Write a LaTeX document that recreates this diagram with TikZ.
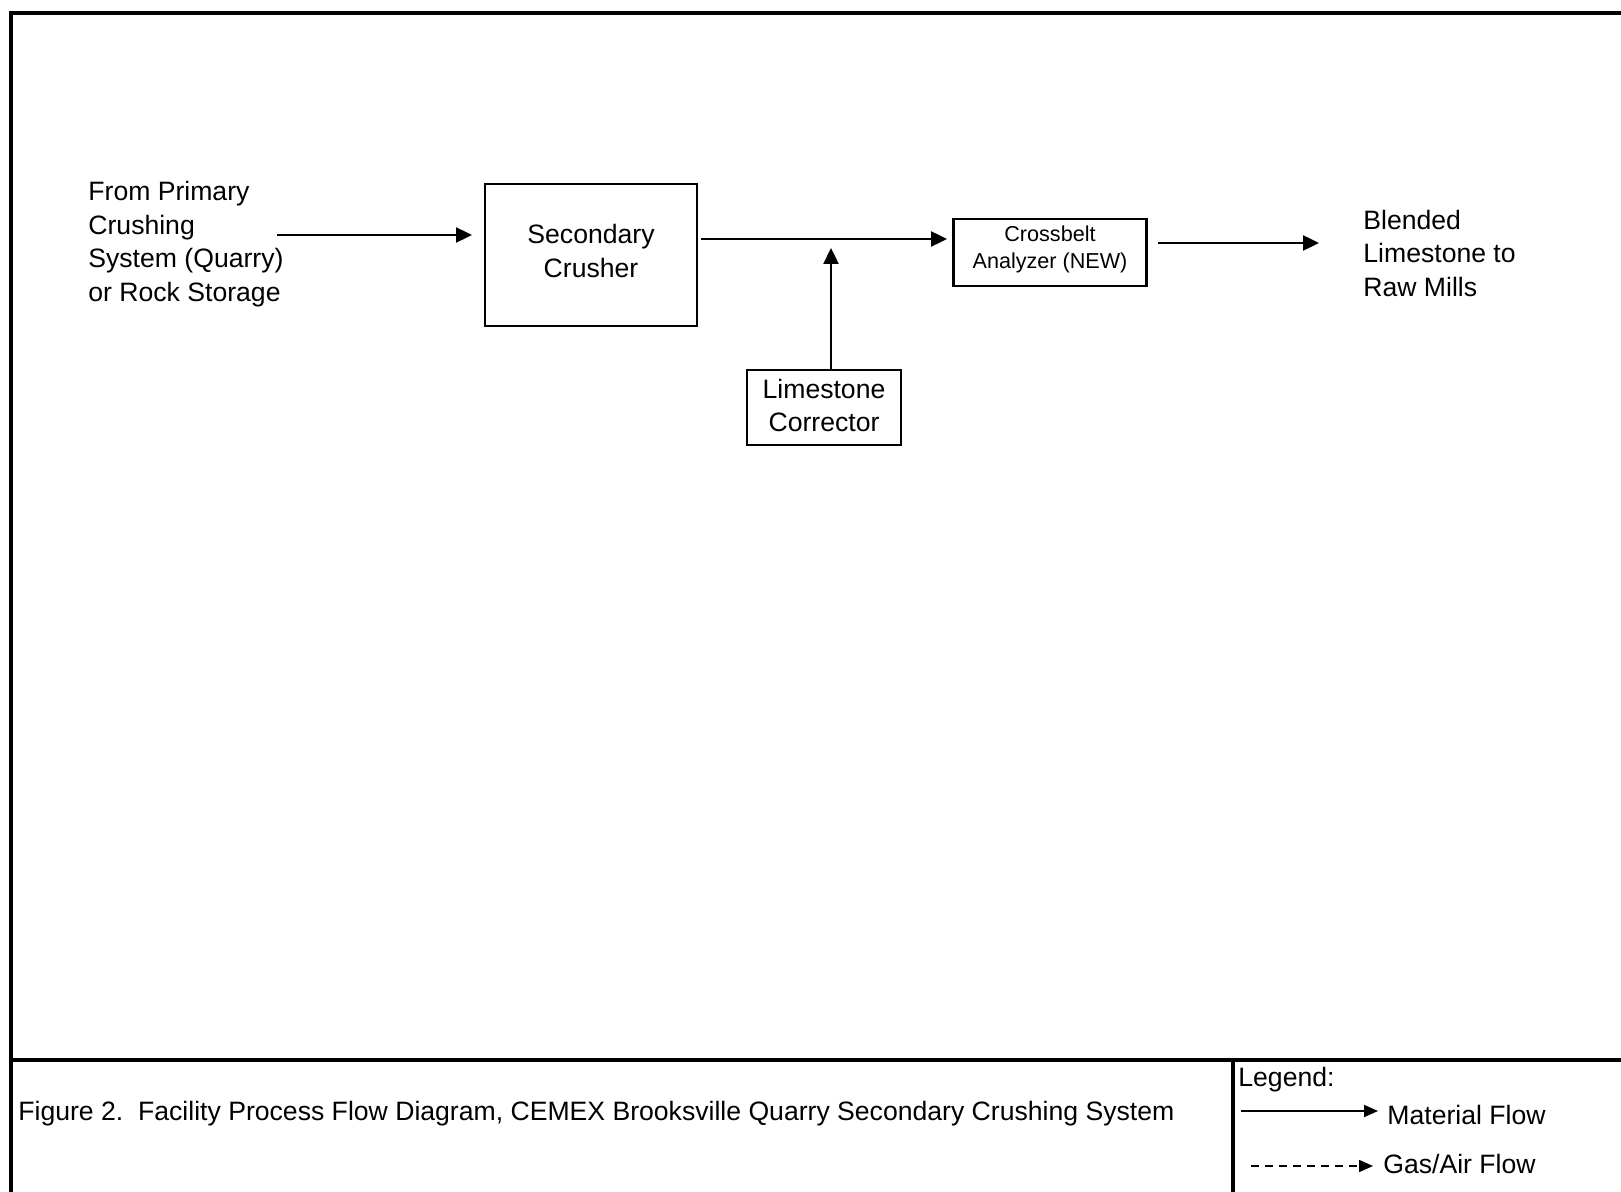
\documentclass[tikz,border=0pt]{standalone}
\usepackage{fontspec}
\setmainfont{Liberation Sans}
\usetikzlibrary{arrows.meta}
\begin{document}
\begin{tikzpicture}[x=0.5pt,y=-0.5pt,
  mainfont/.style={font=\fontsize{13.3}{16.75}\selectfont},
  smallfont/.style={font=\fontsize{10.8}{13.3}\selectfont},
  procbox/.style={draw=black,line width=1.3pt,inner sep=0pt},
  boxtext/.style={inner sep=0pt,align=center,mainfont},
  txt/.style={inner sep=0pt,align=left,mainfont,anchor=west},
  flow/.style={draw=black,line width=1.2pt,-{Triangle[length=8pt,width=7.5pt]}},
  legflow/.style={draw=black,line width=1pt,-{Triangle[length=7pt,width=6pt]}},
  gasflow/.style={draw=black,line width=0.8pt,dash pattern=on 4pt off 3pt,-{Triangle[length=7pt,width=6pt]}},
  frame/.style={draw=black,line width=2.3pt}]
\useasboundingbox (0,0) rectangle (1621,1192);
\fill[white] (0,0) rectangle (1621,1192);
% frame
\coordinate (ftl) at (11,13);
\coordinate (ftr) at (1621,13);
\coordinate (fbl) at (11,1192);
\coordinate (mbl) at (11,1060);
\coordinate (mbr) at (1621,1060);
\coordinate (dvt) at (1233,1060);
\coordinate (dvb) at (1233,1192);
\draw[frame] (ftr) -- (ftl) -- (fbl);
\draw[frame] (mbl) -- (mbr);
\draw[frame] (dvt) -- (dvb);
% nodes
\node[txt] (from) at (88,244) {From Primary\\Crushing\\System (Quarry)\\or Rock Storage};
\node[procbox,minimum width=106pt,minimum height=71pt] (crusher) at (591,255) {};
\node[boxtext] (crushertxt) at (591,251) {Secondary\\Crusher};
\node[procbox,minimum width=96.5pt,minimum height=33.5pt] (cba) at (1050,252.5) {};
\node[boxtext,smallfont] (cbatxt) at (1050,249.5) {Crossbelt\\Analyzer (NEW)};
\node[procbox,minimum width=77pt,minimum height=37.5pt] (lsc) at (824,407.5) {};
\node[boxtext] (lsctxt) at (824,405.5) {Limestone\\Corrector};
\node[txt] (blend) at (1363,253) {Blended\\Limestone to\\Raw Mills};
% connectors
\coordinate (a1s) at (277,235);
\coordinate (a1e) at (472,235);
\draw[flow] (a1s) -- (a1e);
\coordinate (a2s) at (701,239);
\coordinate (a2e) at (947,239);
\draw[flow] (a2s) -- (a2e);
\coordinate (a4e) at (831,248);
\draw[flow] (lsc.north -| a4e) -- (a4e);
\coordinate (a3s) at (1158,243);
\coordinate (a3e) at (1319,243);
\draw[flow] (a3s) -- (a3e);
% caption
\node[txt] (cap) at (18,1114) {Figure 2.\ \ Facility Process Flow Diagram, CEMEX Brooksville Quarry Secondary Crushing System};
% legend
\node[txt] (leg) at (1238,1080) {Legend:};
\coordinate (lm1) at (1241,1111);
\coordinate (lm2) at (1378,1111);
\draw[legflow] (lm1) -- (lm2);
\node[txt] (matl) at (1387,1115) {Material Flow};
\coordinate (lg1) at (1251,1166);
\coordinate (lg2) at (1373,1166);
\draw[gasflow] (lg1) -- (lg2);
\node[txt] (gas) at (1383,1164) {Gas/Air Flow};
\end{tikzpicture}
\end{document}
